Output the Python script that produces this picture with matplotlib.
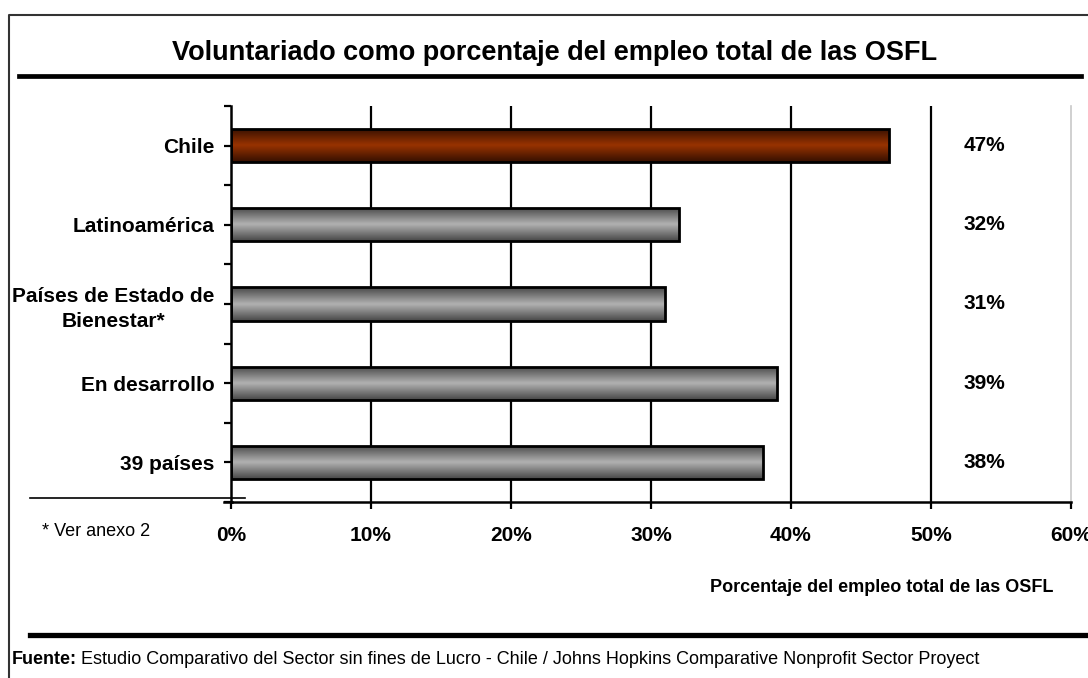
import numpy as np
import matplotlib.pyplot as plt
from matplotlib.lines import Line2D
from matplotlib.colors import LinearSegmentedColormap

plt.rcParams['font.family'] = ['Liberation Sans', 'DejaVu Sans']

# volunteering as share of total nonprofit employment (%)
categories = ['Chile', 'Latinoamérica', 'Países de Estado de\nBienestar*',
              'En desarrollo', '39 países']
values = [47, 32, 31, 39, 38]
xticks = [0, 10, 20, 30, 40, 50, 60]
xtick_labels = ['0%', '10%', '20%', '30%', '40%', '50%', '60%']

W, H = 1088, 678
fig = plt.figure(figsize=(W / 100, H / 100), dpi=100)


def fx(px):
    return px / W


def fy(py):
    return 1 - py / H


ax = fig.add_axes([fx(231), fy(502), fx(1071 - 231), fy(106) - fy(502)])
ypos = np.arange(len(categories))

bars = ax.barh(ypos, values, height=0.42, color='none', edgecolor='black',
               linewidth=2, zorder=3)

# shaded fill inside every bar: dark at the edges, light in the middle
grey_cmap = LinearSegmentedColormap.from_list('g', ['#484848', '#b2b2b2', '#484848'])
brown_cmap = LinearSegmentedColormap.from_list('b', ['#361000', '#993300', '#361000'])
grad = np.linspace(0, 1, 64).reshape(-1, 1)
for i, b in enumerate(bars):
    x0, y0 = b.get_x(), b.get_y()
    w, h = b.get_width(), b.get_height()
    cmap = brown_cmap if i == 0 else grey_cmap
    im = ax.imshow(grad, cmap=cmap, aspect='auto', extent=(x0, x0 + w, y0 + h, y0),
                   zorder=2, interpolation='bicubic')
    im.set_clip_path(b)

ax.set_xlim(xticks[0], xticks[-1])
ax.set_ylim(len(categories) - 0.5, -0.5)

# vertical grid lines, last one is the light plot-area border
for xv in xticks[1:-1]:
    ax.axvline(xv, color='black', lw=1.6, zorder=1)
ax.spines['right'].set_color('#c8c8c8')
ax.spines['right'].set_linewidth(1.2)
ax.spines['top'].set_visible(False)
ax.spines['left'].set_linewidth(1.8)
ax.spines['bottom'].set_linewidth(1.8)

ax.set_xticks(xticks)
ax.set_xticklabels(xtick_labels, fontsize=15, fontweight='bold')
ax.tick_params(axis='x', direction='out', length=5, width=1.6, pad=12)

ax.set_yticks(ypos)
ax.set_yticklabels(categories, fontsize=15, fontweight='bold', multialignment='center',
                   linespacing=1.4)
ax.set_yticks(np.arange(-0.5, len(categories), 1.0), minor=True)
ax.tick_params(axis='y', which='both', direction='out', length=5, width=1.6, pad=7)

for y, v in zip(ypos, values):
    ax.text(53.8, y, f'{v}%', ha='center', va='center', fontsize=15,
            fontweight='bold', clip_on=False)

# title and separators
fig.text(fx(555), fy(53), 'Voluntariado como porcentaje del empleo total de las OSFL',
         ha='center', va='center', fontsize=19.5, fontweight='bold')
fig.add_artist(Line2D([fx(19), fx(1081)], [fy(76), fy(76)], color='black', lw=3.4))
fig.add_artist(Line2D([fx(30), fx(1088)], [fy(634.5), fy(634.5)], color='black', lw=3.8))
fig.add_artist(Line2D([fx(30), fx(245)], [fy(498), fy(498)], color='black', lw=1.2))
fig.add_artist(Line2D([fx(224), fx(232)], [fy(502), fy(502)], color='black', lw=1.8))

# outer frame
fig.add_artist(Line2D([fx(9), fx(9), fx(1088)], [fy(678), fy(15), fy(15)],
                      color='#333333', lw=1.5))

fig.text(fx(42), fy(531), '* Ver anexo 2', ha='left', va='center', fontsize=13)
fig.text(fx(882), fy(588), 'Porcentaje del empleo total de las OSFL',
         ha='center', va='center', fontsize=13, fontweight='bold')

src = fig.text(fx(12), fy(660), 'Fuente:', ha='left', va='center', fontsize=13,
               fontweight='bold')
fig.canvas.draw()
bb = src.get_window_extent()
fig.text(bb.x1 / W + fx(4), fy(660),
         'Estudio Comparativo del Sector sin fines de Lucro - Chile / '
         'Johns Hopkins Comparative Nonprofit Sector Proyect',
         ha='left', va='center', fontsize=13)

fig.savefig('out.png', dpi=100)
